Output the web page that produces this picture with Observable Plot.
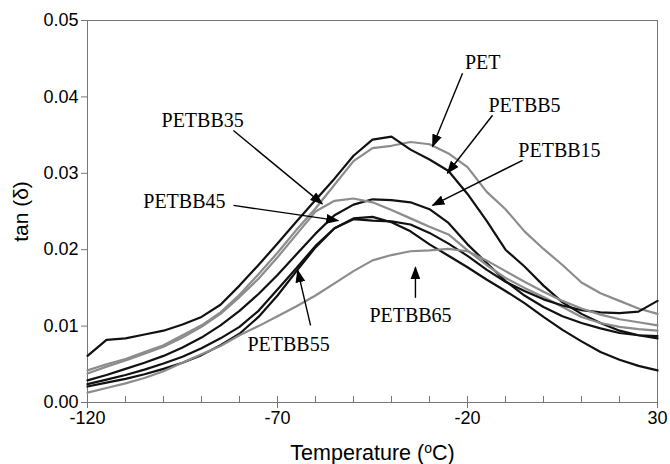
<!DOCTYPE html>
<html><head><meta charset="utf-8">
<script src="https://cdn.jsdelivr.net/npm/d3@7"></script>
<script src="https://cdn.jsdelivr.net/npm/@observablehq/plot@0.6"></script>
<style>body{margin:0;background:#fff} .serif-ann{font-family:"Liberation Serif","Times New Roman",Times,serif !important;}</style>
</head><body><div id="chart"></div>
<script>
// Temperature grid (°C)
const temps = [-120,-115,-110,-105,-100,-95,-90,-85,-80,-75,-70,-65,-60,-55,-50,-45,-40,-35,-30,-25,-20,-15,-10,-5,0,5,10,15,20,25,30];

// tan(delta) series
const PET      = [0.0042,0.0050,0.0057,0.0066,0.0075,0.0088,0.0101,0.0118,0.0141,0.0168,0.0196,0.0226,0.0254,0.0285,0.0316,0.0333,0.0336,0.0341,0.0338,0.0326,0.0308,0.0276,0.0253,0.0224,0.0201,0.0180,0.0157,0.0143,0.0133,0.0123,0.0116];
const PETBB5   = [0.0061,0.0082,0.0084,0.0089,0.0094,0.0102,0.0112,0.0128,0.0153,0.0180,0.0208,0.0237,0.0265,0.0293,0.0323,0.0344,0.0348,0.0331,0.0318,0.0303,0.0273,0.0238,0.0200,0.0178,0.0153,0.0131,0.0116,0.0104,0.0094,0.0088,0.0084];
const PETBB15  = [0.0029,0.0036,0.0044,0.0052,0.0061,0.0072,0.0085,0.0101,0.0120,0.0142,0.0167,0.0194,0.0221,0.0245,0.0259,0.0266,0.0265,0.0262,0.0253,0.0235,0.0207,0.0183,0.0159,0.0140,0.0125,0.0113,0.0104,0.0097,0.0091,0.0088,0.0087];
const PETBB35  = [0.0038,0.0047,0.0055,0.0064,0.0073,0.0085,0.0099,0.0116,0.0138,0.0162,0.0190,0.0220,0.0250,0.0264,0.0267,0.0262,0.0252,0.0241,0.0230,0.0220,0.0199,0.0180,0.0163,0.0150,0.0138,0.0125,0.0112,0.0104,0.0099,0.0096,0.0094];
const PETBB45  = [0.0024,0.0030,0.0036,0.0043,0.0051,0.0060,0.0071,0.0084,0.0099,0.0120,0.0148,0.0176,0.0205,0.0228,0.0240,0.0238,0.0237,0.0233,0.0222,0.0208,0.0192,0.0174,0.0158,0.0146,0.0135,0.0127,0.0121,0.0118,0.0117,0.0119,0.0133];
const PETBB55  = [0.0021,0.0026,0.0031,0.0037,0.0044,0.0052,0.0062,0.0075,0.0090,0.0112,0.0140,0.0172,0.0203,0.0228,0.0241,0.0243,0.0236,0.0224,0.0207,0.0192,0.0177,0.0161,0.0146,0.0130,0.0112,0.0095,0.0080,0.0066,0.0056,0.0048,0.0042];
const PETBB65  = [0.0013,0.0019,0.0025,0.0032,0.0041,0.0052,0.0063,0.0074,0.0088,0.0100,0.0113,0.0126,0.0140,0.0156,0.0172,0.0186,0.0193,0.0198,0.0199,0.0201,0.0198,0.0186,0.0172,0.0158,0.0145,0.0133,0.0123,0.0115,0.0109,0.0105,0.0101];

const seriesNames  = ["PET","PETBB5","PETBB15","PETBB35","PETBB45","PETBB55","PETBB65"];
const seriesValues = [PET, PETBB5, PETBB15, PETBB35, PETBB45, PETBB55, PETBB65];
const seriesColors = ["#8c8c8c","#111111","#111111","#8c8c8c","#111111","#111111","#8c8c8c"];

// Tick labels
const yTicks = [0, 0.01, 0.02, 0.03, 0.04, 0.05];
const xMajor = [-120, -70, -20, 30];
const xMinor = [-110,-100,-90,-80,-60,-50,-40,-30,-10,0,10,20];

// Annotations (label position and arrow from/to, in data units)
const annNames = ["PET","PETBB5","PETBB15","PETBB35","PETBB45","PETBB55","PETBB65"];
const annLabelT = [-16, -5, 4.2, -89.7, -94.5, -67.1, -35];
const annLabelV = [0.0445, 0.0389, 0.0330, 0.0369, 0.0263, 0.0076, 0.0114];
const arrowT1 = [-21.3, -13.4, -5.5, -81.6, -81.6, -61.3, -33.7];
const arrowV1 = [0.0431, 0.0376, 0.0317, 0.0356, 0.0258, 0.0101, 0.0137];
const arrowT2 = [-29.2, -25.3, -29.2, -58.2, -54.0, -64.7, -33.7];
const arrowV2 = [0.0335, 0.0300, 0.0258, 0.0260, 0.0238, 0.0173, 0.0177];

const rows = seriesNames.flatMap((name, i) => temps.map((t, j) => ({name, t, v: seriesValues[i][j]})));
const labels = annNames.map((text, i) => ({text, x: annLabelT[i], y: annLabelV[i]}));
const arrows = annNames.map((n, i) => ({x1: arrowT1[i], y1: arrowV1[i], x2: arrowT2[i], y2: arrowV2[i]}));

const W = 670, H = 464, mL = 87, mR = 13, mT = 20, mB = 62;
const plotH = H - mT - mB;
const serif = "Liberation Serif, Times New Roman, serif";

const svg = Plot.plot({
  width: W, height: H,
  marginLeft: mL, marginRight: mR, marginTop: mT, marginBottom: mB,
  style: {fontFamily: "'Liberation Sans', Arial, sans-serif", fontSize: "18px", color: "#000", background: "#fff"},
  x: {domain: [-120, 30]},
  y: {domain: [0, 0.05]},
  color: {domain: seriesNames, range: seriesColors},
  marks: [
    Plot.axisY({ticks: yTicks, tickFormat: d3.format(".2f"), tickSize: 6, tickPadding: 3, stroke: "#777",
      label: "tan (δ)", labelAnchor: "center", labelOffset: 74}),
    Plot.axisX({ticks: xMajor, tickFormat: d => String(d), tickSize: 6, tickPadding: 3, stroke: "#777",
      label: "Temperature (oC)", labelAnchor: "center", labelOffset: 57}),
    Plot.tickX(xMajor.concat(xMinor), {x: d => d, insetTop: plotH - 6, stroke: "#777"}),
    Plot.frame({stroke: "#777"}),
    Plot.line(rows, {x: "t", y: "v", z: "name", stroke: "name", strokeWidth: 2.2}),
    Plot.link(arrows, {x1: "x1", y1: "y1", x2: "x2", y2: "y2", stroke: "#000", strokeWidth: 1.4, className: "ann-arrow"}),
    Plot.text(labels, {x: "x", y: "y", text: "text", fontSize: 20, fontFamily: serif, fill: "#000", className: "ann-text"})
  ]
});

// filled arrowheads
const ns = "http://www.w3.org/2000/svg";
const defs = document.createElementNS(ns, "defs");
const marker = document.createElementNS(ns, "marker");
marker.setAttribute("id", "fillarrow");
marker.setAttribute("viewBox", "0 0 13 10");
marker.setAttribute("refX", "12");
marker.setAttribute("refY", "5");
marker.setAttribute("markerWidth", "13");
marker.setAttribute("markerHeight", "10");
marker.setAttribute("markerUnits", "userSpaceOnUse");
marker.setAttribute("orient", "auto");
const mp = document.createElementNS(ns, "path");
mp.setAttribute("d", "M0,0L13,5L0,10Z");
mp.setAttribute("fill", "#000");
marker.appendChild(mp);
defs.appendChild(marker);
svg.insertBefore(defs, svg.firstChild);
svg.querySelectorAll(".ann-arrow path, .ann-arrow line").forEach(p => p.setAttribute("marker-end", "url(#fillarrow)"));

// serif annotation font (every annotation text element)
svg.querySelectorAll("text").forEach(t => {
  if (annNames.includes(t.textContent)) {
    t.setAttribute("font-family", serif);
    t.classList.add("serif-ann");
  }
});

// axis titles: drop arrows, superscript "o", larger size
svg.querySelectorAll("text").forEach(t => {
  const s = t.textContent;
  if (s.indexOf("Temperature") >= 0) {
    while (t.firstChild) t.removeChild(t.firstChild);
    t.style.fontSize = "21.5px";
    const a = document.createElementNS(ns, "tspan"); a.textContent = "Temperature (";
    const b = document.createElementNS(ns, "tspan"); b.textContent = "o"; b.setAttribute("dy", "-0.45em"); b.style.fontSize = "14px";
    const c = document.createElementNS(ns, "tspan"); c.textContent = "C)"; c.setAttribute("dy", "7px");
    t.appendChild(a); t.appendChild(b); t.appendChild(c);
  } else if (s.indexOf("tan (") >= 0) {
    while (t.firstChild) t.removeChild(t.firstChild);
    t.style.fontSize = "21px";
    t.textContent = "tan (δ)";
  }
});

document.getElementById("chart").appendChild(svg);
</script>
</body></html>
